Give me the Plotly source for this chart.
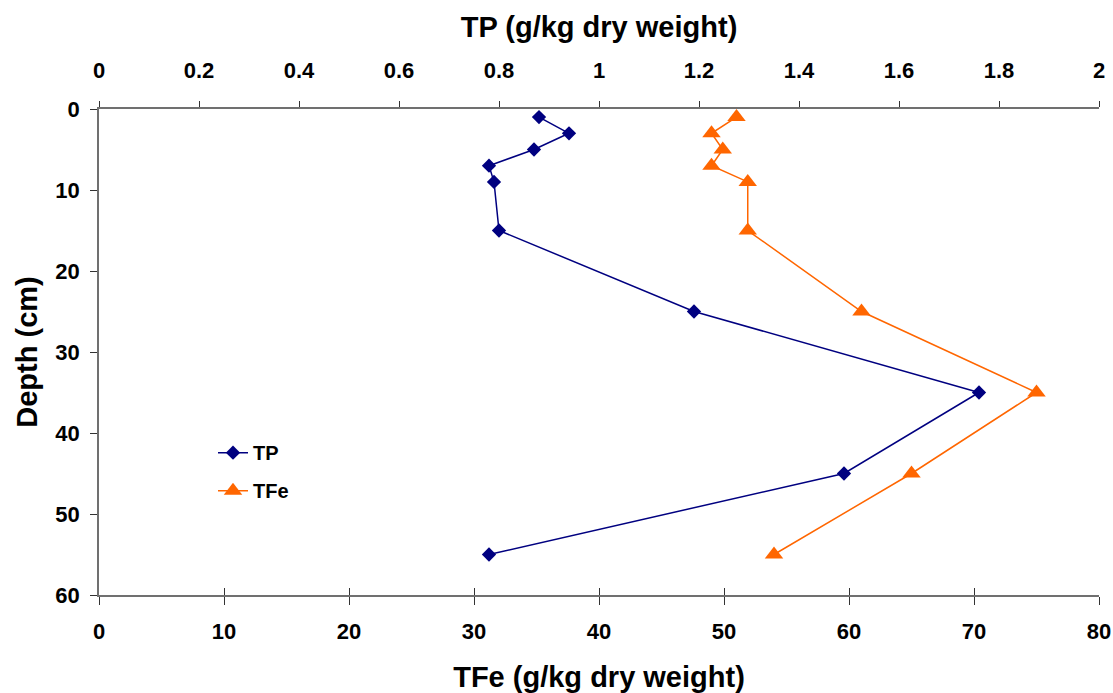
import plotly.graph_objects as go

depth = [1, 3, 5, 7, 9, 15, 25, 35, 45, 55]
tp = [0.88, 0.94, 0.87, 0.78, 0.79, 0.80, 1.19, 1.76, 1.49, 0.78]
tfe = [51.0, 49.0, 49.9, 49.0, 51.9, 51.9, 61.0, 75.0, 65.0, 54.0]

font_family = "Liberation Sans, Arial, sans-serif"
tick_font = dict(family=font_family, size=22, color="black", weight="bold")
title_font = dict(family=font_family, size=29, color="black", weight="bold")

fig = go.Figure()
fig.add_trace(go.Scatter(
    x=tp, y=depth, name="TP", xaxis="x2", yaxis="y",
    mode="lines+markers",
    line=dict(color="#000080", width=1.5),
    marker=dict(symbol="diamond", size=11, color="#000080"),
    legendgroup="a",
))
fig.add_trace(go.Scatter(
    x=tfe, y=depth, name="TFe", xaxis="x", yaxis="y",
    mode="lines+markers",
    line=dict(color="#FF6600", width=1.5),
    marker=dict(symbol="triangle-up", size=16, color="#FF6600"),
    legendgroup="b",
))

axis_common = dict(
    showgrid=False, zeroline=False, showline=True,
    linecolor="#707070", linewidth=1.5,
    ticks="outside", tickcolor="#333333", tickwidth=1,
    tickfont=tick_font,
)

fig.update_layout(
    width=1113, height=693,
    margin=dict(l=99, r=14, t=109, b=98),
    paper_bgcolor="white", plot_bgcolor="white",
    font=dict(family=font_family, color="black"),
    xaxis=dict(
        range=[0, 80], dtick=10, side="bottom", ticklen=8, ticklabelstandoff=8,
        title=dict(text="TFe (g/kg dry weight)", font=title_font, standoff=25),
        automargin=False, **axis_common,
    ),
    xaxis3=dict(
        range=[0, 80], dtick=10, overlaying="x", side="bottom",
        showgrid=False, zeroline=False, showline=False, showticklabels=False,
        ticks="inside", ticklen=7, tickcolor="#333333", tickwidth=1,
        automargin=False,
    ),
    xaxis2=dict(
        range=[0, 2], dtick=0.2, side="top", overlaying="x", ticklen=6,
        ticklabelstandoff=14,
        title=dict(text="TP (g/kg dry weight)", font=title_font, standoff=12),
        automargin=False, **axis_common,
    ),
    yaxis=dict(
        range=[60, 0], dtick=10, ticklen=7, ticklabelstandoff=6,
        title=dict(text="Depth (cm)", font=title_font, standoff=9),
        automargin=True, **axis_common,
    ),
    legend=dict(
        x=0.114, y=0.333, xanchor="left", yanchor="top",
        font=dict(family=font_family, size=20, color="black", weight="bold"),
        bgcolor="rgba(0,0,0,0)", traceorder="grouped", tracegroupgap=9,
    ),
)

# invisible helper trace so the crossing tick marks of the bottom axis render
fig.add_trace(go.Scatter(x=[None], y=[None], xaxis="x3", yaxis="y",
                         showlegend=False, hoverinfo="skip"))

fig.write_html(
    "out.html",
    config={"displayModeBar": False},
    post_script="document.body.style.margin='0';document.body.style.overflow='hidden';",
)
